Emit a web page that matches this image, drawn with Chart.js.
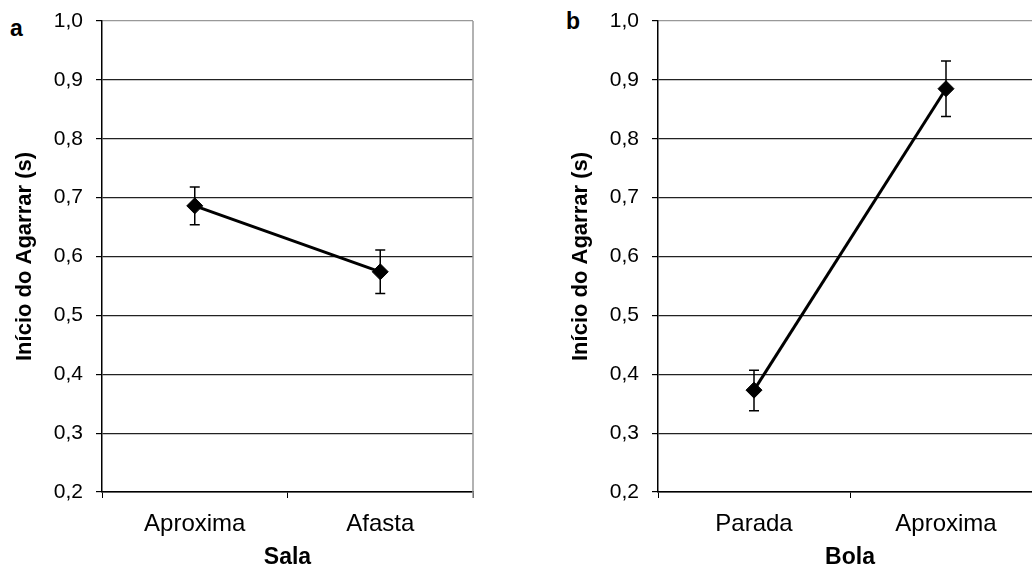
<!DOCTYPE html>
<html>
<head>
<meta charset="utf-8">
<script src="https://cdn.jsdelivr.net/npm/chart.js@4.4.1/dist/chart.umd.min.js"></script>
<style>
  body { margin: 0; width: 1032px; height: 567px; overflow: hidden; background: #fff; position: relative; }
  canvas { position: absolute; top: 0; }
  #grafico1 { left: 0; }
  #grafico2 { left: 556px; }
  .letra { position: absolute; font: bold 23px "Liberation Sans", Arial, sans-serif; line-height: 23px; }
</style>
</head>
<body>
<div class="letra" style="left:10px; top:17px;">a</div>
<div class="letra" style="left:566px; top:10px;">b</div>
<canvas id="grafico1" width="500" height="567"></canvas>
<canvas id="grafico2" width="500" height="567"></canvas>
<script>
// painel a - Sala
const salaLabels = ['Aproxima', 'Afasta'];
const salaMedia = [0.686, 0.574];
const salaInf = [0.654, 0.537];
const salaSup = [0.718, 0.611];

// painel b - Bola
const bolaLabels = ['Parada', 'Aproxima'];
const bolaMedia = [0.373, 0.885];
const bolaInf = [0.338, 0.838];
const bolaSup = [0.407, 0.932];

const yMin = 0.2, yMax = 1.0, yStep = 0.1;
const yTitulo = 'Início do Agarrar (s)';
const fonte = '"Liberation Sans", Arial, sans-serif';

// barras de erro com traço no topo e na base
const barrasErro = {
    id: 'barrasErro',
    afterDatasetsDraw(chart) {
        const c = chart.ctx;
        const y = chart.scales.y;
        chart.data.datasets.forEach((ds, i) => {
            const meta = chart.getDatasetMeta(i);
            meta.data.forEach((pt, j) => {
                const top = y.getPixelForValue(ds.sup[j]);
                const bot = y.getPixelForValue(ds.inf[j]);
                c.save();
                c.strokeStyle = '#000';
                c.lineWidth = 1.5;
                c.beginPath();
                c.moveTo(pt.x, top); c.lineTo(pt.x, bot);
                c.moveTo(pt.x - 5, top); c.lineTo(pt.x + 5, top);
                c.moveTo(pt.x - 5, bot); c.lineTo(pt.x + 5, bot);
                c.stroke();
                c.restore();
            });
        });
    }
};

// borda direita cinza da área do gráfico
const bordaDireita = {
    id: 'bordaDireita',
    beforeDatasetsDraw(chart) {
        const a = chart.chartArea;
        const c = chart.ctx;
        c.save();
        c.strokeStyle = '#999';
        c.lineWidth = 1.5;
        c.beginPath();
        c.moveTo(a.right, a.top);
        c.lineTo(a.right, a.bottom + 6);
        c.stroke();
        c.restore();
    }
};

function grafico(id, labels, media, inf, sup, xTitulo, padRight) {
    new Chart(document.getElementById(id), {
        type: 'line',
        data: {
            labels: labels,
            datasets: [{
                data: media,
                inf: inf,
                sup: sup,
                borderColor: '#000',
                borderWidth: 3,
                pointStyle: 'rectRot',
                pointRadius: 8,
                pointBackgroundColor: '#000',
                pointBorderColor: '#000',
                pointBorderWidth: 1,
                tension: 0
            }]
        },
        options: {
            responsive: false,
            animation: false,
            events: [],
            layout: { padding: { top: 21, right: padRight, left: 0, bottom: 0 } },
            plugins: {
                legend: { display: false },
                tooltip: { enabled: false }
            },
            scales: {
                x: {
                    offset: true,
                    afterFit: (s) => { s.height = 75; },
                    grid: {
                        offset: true,
                        drawOnChartArea: false,
                        drawTicks: true,
                        tickLength: 6,
                        tickColor: '#000',
                        tickWidth: 1
                    },
                    border: { color: '#000', width: 1.5 },
                    ticks: {
                        color: '#000',
                        padding: 12,
                        maxRotation: 0,
                        font: { family: fonte, size: 24 }
                    },
                    title: {
                        display: true,
                        text: xTitulo,
                        color: '#000',
                        padding: { top: 0, bottom: -4 },
                        font: { family: fonte, size: 23, weight: 'bold' }
                    }
                },
                y: {
                    min: yMin,
                    max: yMax,
                    afterFit: (s) => { s.width = 102; s.paddingTop = 0; s.paddingBottom = 0; },
                    grid: {
                        color: (ctx) => (ctx.tick && ctx.tick.value > 0.99 ? '#999' : '#222'),
                        lineWidth: 1.2,
                        tickLength: 6,
                        tickColor: '#000'
                    },
                    border: { color: '#000', width: 1.5 },
                    ticks: {
                        stepSize: yStep,
                        color: '#000',
                        padding: 13,
                        font: { family: fonte, size: 21 },
                        callback: (value) => value.toFixed(1).replace('.', ',')
                    },
                    title: {
                        display: true,
                        text: yTitulo,
                        color: '#000',
                        padding: { top: 12, bottom: 0 },
                        font: { family: fonte, size: 22, weight: 'bold' }
                    }
                }
            }
        },
        plugins: [bordaDireita, barrasErro]
    });
}

grafico('grafico1', salaLabels, salaMedia, salaInf, salaSup, 'Sala', 27);
grafico('grafico2', bolaLabels, bolaMedia, bolaInf, bolaSup, 'Bola', 14);
</script>
</body>
</html>
